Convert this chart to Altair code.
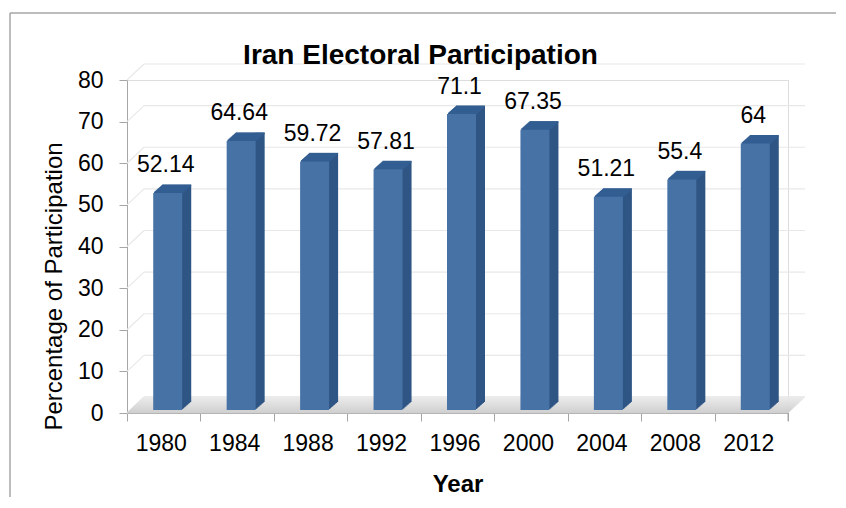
import altair as alt
import pandas as pd

# ---- data ----
years = ["1980", "1984", "1988", "1992", "1996", "2000", "2004", "2008", "2012"]
participation = [52.14, 64.64, 59.72, 57.81, 71.1, 67.35, 51.21, 55.4, 64]
y_ticks = [0, 10, 20, 30, 40, 50, 60, 70, 80]

df = pd.DataFrame({"Year": years, "Participation": participation})
df["label"] = [f"{v:g}" for v in participation]
grid_df = pd.DataFrame({"Participation": y_ticks})

# ---- style constants ----
W, H = 661, 333
DX, DY = 17, 16          # depth of back wall / floor
BAR_W = 29
BX = 4                   # bar shift inside band (3D perspective)
DEPTH = 9                # bar extrusion steps
FONT = "Liberation Sans"
FRONT = "#4672a6"
SIDE = "#2e5584"
CAP = "#335e92"

x_scale = alt.Scale(domain=years, paddingInner=0, paddingOuter=0)
y_scale = alt.Scale(domain=[0, 80], nice=False)

x_axis = alt.Axis(
    title="Year", titleFont=FONT, titleFontSize=24, titleFontWeight="bold",
    titleColor="black", titleY=78.5, titleBaseline="alphabetic",
    labelFont=FONT, labelFontSize=23, labelColor="black", labelAngle=0,
    labelPadding=11, labelOffset=-3, tickBand="extent", tickSize=8,
    tickColor="#a6a6a6", domainColor="#6e6e6e", grid=False,
)
y_axis = alt.Axis(
    title="Percentage of Participation", titleFont=FONT, titleFontSize=24,
    titleFontWeight="normal", titleColor="black", titleX=-66, titleY=206,
    titleBaseline="alphabetic", titleAngle=270,
    values=y_ticks, labelFont=FONT, labelFontSize=23, labelColor="black",
    labelPadding=16, tickSize=8, tickColor="#a6a6a6", domainColor="#a6a6a6",
    grid=False,
)

X = alt.X("Year:N", sort=years, scale=x_scale, axis=x_axis)
Y = alt.Y("Participation:Q", scale=y_scale, axis=y_axis)

layers = []

# back wall gridlines
layers.append(
    alt.Chart(grid_df).mark_rule(color="#e8e8e8", strokeWidth=1.2, yOffset=-DY)
    .encode(y=Y, x=alt.value(DX), x2=alt.value(W + DX))
)
# left wall diagonals
layers.append(
    alt.Chart(grid_df).mark_rule(color="#e8e8e8", strokeWidth=1.2, y2Offset=-DY)
    .encode(y=Y, y2=alt.Y2("Participation:Q"), x=alt.value(0), x2=alt.value(DX))
)
# floor (slanted slab)
for k in range(DY + 1):
    t = k / DY
    g = int(0xcc + (0xea - 0xcc) * t)
    col = f"#{g:02x}{g:02x}{g:02x}"
    sh = k * DX / DY
    layers.append(
        alt.Chart(grid_df.head(1)).mark_rule(color=col, strokeWidth=1.3, yOffset=-k)
        .encode(y=Y, x=alt.value(sh), x2=alt.value(W + sh))
    )
# closing tick at the right end
layers.append(
    alt.Chart(grid_df.head(1)).mark_rule(color="#a6a6a6")
    .encode(x=alt.value(W), y=alt.value(H), y2=alt.value(H + 8))
)
# outer frame (left + top)
layers.append(
    alt.Chart(grid_df.head(1)).mark_rule(color="#a6a6a6", strokeWidth=1.5)
    .encode(x=alt.value(-117), y=alt.value(-67), y2=alt.value(H + 100))
)
layers.append(
    alt.Chart(grid_df.head(1)).mark_rule(color="#a6a6a6", strokeWidth=1.5)
    .encode(y=alt.value(-67), x=alt.value(-117), x2=alt.value(W + 60))
)

# bar extrusion: side faces
for k in range(1, DEPTH + 1):
    dy = k * 8 / DEPTH
    layers.append(
        alt.Chart(df).mark_bar(width=BAR_W, color=SIDE, xOffset=BX + k,
                               yOffset=-3 - dy, y2Offset=-2 - dy)
        .encode(x=X, y=Y)
    )
# bar extrusion: top caps
for k in range(1, DEPTH + 1):
    dy = k * 8 / DEPTH
    layers.append(
        alt.Chart(df).mark_bar(width=BAR_W, color=CAP, xOffset=BX + k,
                               yOffset=-3 - dy - 0.6, y2Offset=-3 - dy + 1.2)
        .encode(x=X, y=Y, y2=alt.Y2("Participation:Q"))
    )
# bar front faces
layers.append(
    alt.Chart(df).mark_bar(width=BAR_W, color=FRONT, xOffset=BX,
                           yOffset=-3, y2Offset=-2)
    .encode(x=X, y=Y)
)
# value labels
layers.append(
    alt.Chart(df).mark_text(font=FONT, fontSize=23, color="black",
                            baseline="alphabetic", dx=2, dy=-23.5)
    .encode(x=X, y=Y, text="label:N")
)

chart = (
    alt.layer(*layers)
    .properties(
        width=W, height=H,
        autosize=alt.AutoSizeParams(type="none"),
        padding={"left": 119, "top": 72, "right": 48, "bottom": 84},
        title=alt.TitleParams(
            "Iran Electoral Participation", font=FONT, fontSize=28,
            fontWeight="bold", color="black", anchor="middle", frame="group",
            dx=-37, offset=-79.75, baseline="alphabetic",
        ),
    )
    .configure_view(stroke=None)
    .configure(background="white")
)

chart.save("out.html", embed_options={"renderer": "svg", "actions": False})
